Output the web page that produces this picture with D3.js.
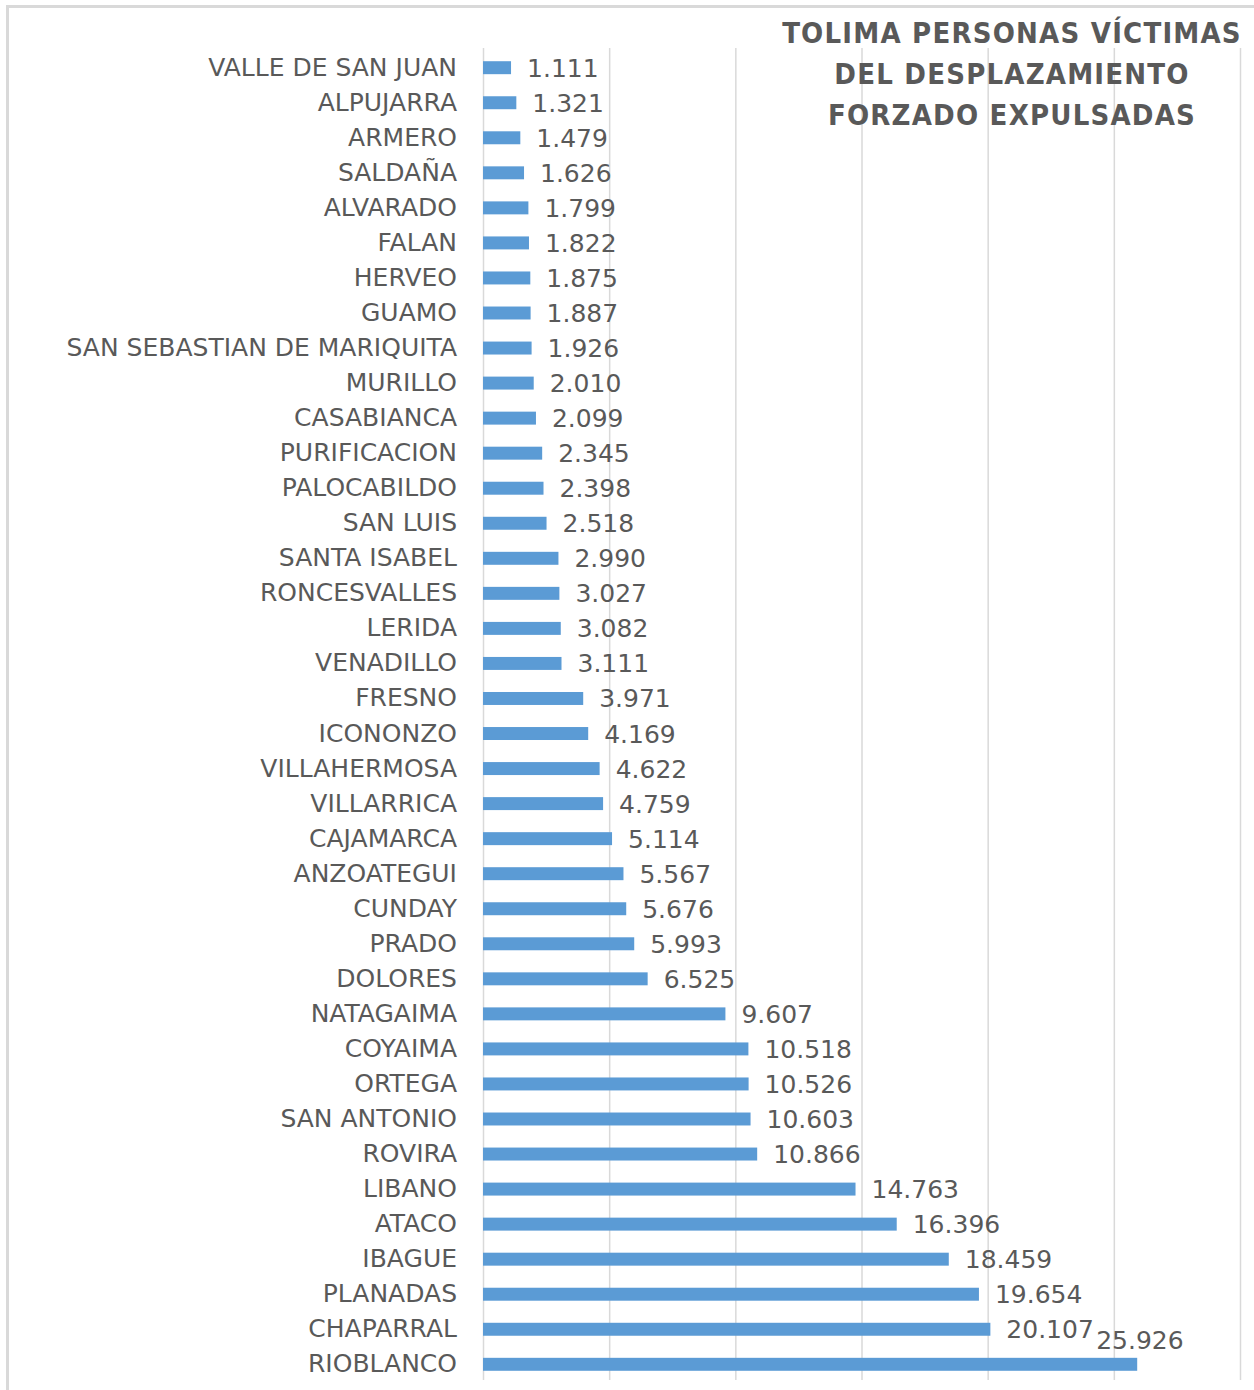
<!DOCTYPE html>
<html>
<head>
<meta charset="utf-8">
<script src="https://cdn.jsdelivr.net/npm/d3@7"></script>
<style>
  body { margin: 0; background: #fff; }
  text { font-family: "DejaVu Sans", sans-serif; fill: #595959; }
</style>
</head>
<body>
<script>
// Tolima: personas victimas del desplazamiento forzado expulsadas
var municipios = ["VALLE DE SAN JUAN", "ALPUJARRA", "ARMERO", "SALDAÑA", "ALVARADO", "FALAN",
  "HERVEO", "GUAMO", "SAN SEBASTIAN DE MARIQUITA", "MURILLO", "CASABIANCA", "PURIFICACION",
  "PALOCABILDO", "SAN LUIS", "SANTA ISABEL", "RONCESVALLES", "LERIDA", "VENADILLO", "FRESNO",
  "ICONONZO", "VILLAHERMOSA", "VILLARRICA", "CAJAMARCA", "ANZOATEGUI", "CUNDAY", "PRADO",
  "DOLORES", "NATAGAIMA", "COYAIMA", "ORTEGA", "SAN ANTONIO", "ROVIRA", "LIBANO", "ATACO",
  "IBAGUE", "PLANADAS", "CHAPARRAL", "RIOBLANCO"];

var personas = [1111, 1321, 1479, 1626, 1799, 1822, 1875, 1887, 1926, 2010, 2099, 2345,
  2398, 2518, 2990, 3027, 3082, 3111, 3971, 4169, 4622, 4759, 5114, 5567, 5676, 5993,
  6525, 9607, 10518, 10526, 10603, 10866, 14763, 16396, 18459, 19654, 20107, 25926];

var gridTicks = [0, 5000, 10000, 15000, 20000, 25000, 30000];

var tituloLineas = ["TOLIMA PERSONAS  VÍCTIMAS", "DEL DESPLAZAMIENTO", "FORZADO EXPULSADAS"];

var width = 1254, height = 1390;
var plotLeft = 483, plotRight = 1240, plotTop = 50, plotBottom = 1382;

var svg = d3.select("body").append("svg")
    .attr("width", width)
    .attr("height", height);

// outer frame (only left and top edges are visible in the crop)
svg.append("path")
    .attr("d", "M7.5," + height + " V6.5 H" + width)
    .attr("fill", "none")
    .attr("stroke", "#d9d9d9")
    .attr("stroke-width", 3);

var x = d3.scaleLinear().domain([0, 30000]).range([plotLeft, plotRight]);
var y = d3.scaleBand().domain(municipios).range([plotTop, plotBottom]).paddingInner(0.63).paddingOuter(0.32);

// vertical gridlines
svg.append("g").selectAll("line")
    .data(gridTicks)
  .enter().append("line")
    .attr("x1", function(d) { return x(d) + 0.5; })
    .attr("x2", function(d) { return x(d) + 0.5; })
    .attr("y1", plotTop - 2)
    .attr("y2", plotBottom - 2)
    .attr("stroke", "#d9d9d9")
    .attr("stroke-width", 1.5);

// title (sits over the gridlines)
svg.append("g").selectAll("text")
    .data(tituloLineas)
  .enter().append("text")
    .attr("x", 1012)
    .attr("y", function(d, i) { return 33 + i * 41; })
    .attr("text-anchor", "middle")
    .attr("dy", "0.36em")
    .style("font-family", "'DejaVu Sans Condensed', 'DejaVu Sans', sans-serif")
    .style("font-size", "29px")
    .style("font-weight", "bold")
    .style("letter-spacing", "1.2px")
    .style("fill", "#595959")
    .text(function(d) { return d; });

// bars
svg.append("g").selectAll("rect")
    .data(personas)
  .enter().append("rect")
    .attr("x", x(0))
    .attr("y", function(d, i) { return y(municipios[i]); })
    .attr("width", function(d) { return x(d) - x(0); })
    .attr("height", y.bandwidth())
    .attr("fill", "#5b9bd5");

// category axis
var yAxis = d3.axisLeft(y).tickSize(0).tickPadding(26);
var gy = svg.append("g")
    .attr("transform", "translate(" + plotLeft + ",0)")
    .call(yAxis);
gy.select(".domain").remove();
gy.attr("font-family", null).attr("font-size", null);
gy.selectAll("text")
    .style("font-size", "25px")
    .style("fill", "#595959");

// data labels
var fmt = d3.formatLocale({ decimal: ",", thousands: ".", grouping: [3] }).format(",");
var last = personas.length - 1;
svg.append("g").selectAll("text")
    .data(personas)
  .enter().append("text")
    .attr("x", function(d, i) { return i === last ? x(d) - 41 : x(d) + 16; })
    .attr("y", function(d, i) {
      var c = y(municipios[i]) + y.bandwidth() / 2;
      return i === last ? c - 24 : c;
    })
    .attr("dy", "0.36em")
    .style("font-size", "25px")
    .text(function(d) { return fmt(d); });
</script>
</body>
</html>
